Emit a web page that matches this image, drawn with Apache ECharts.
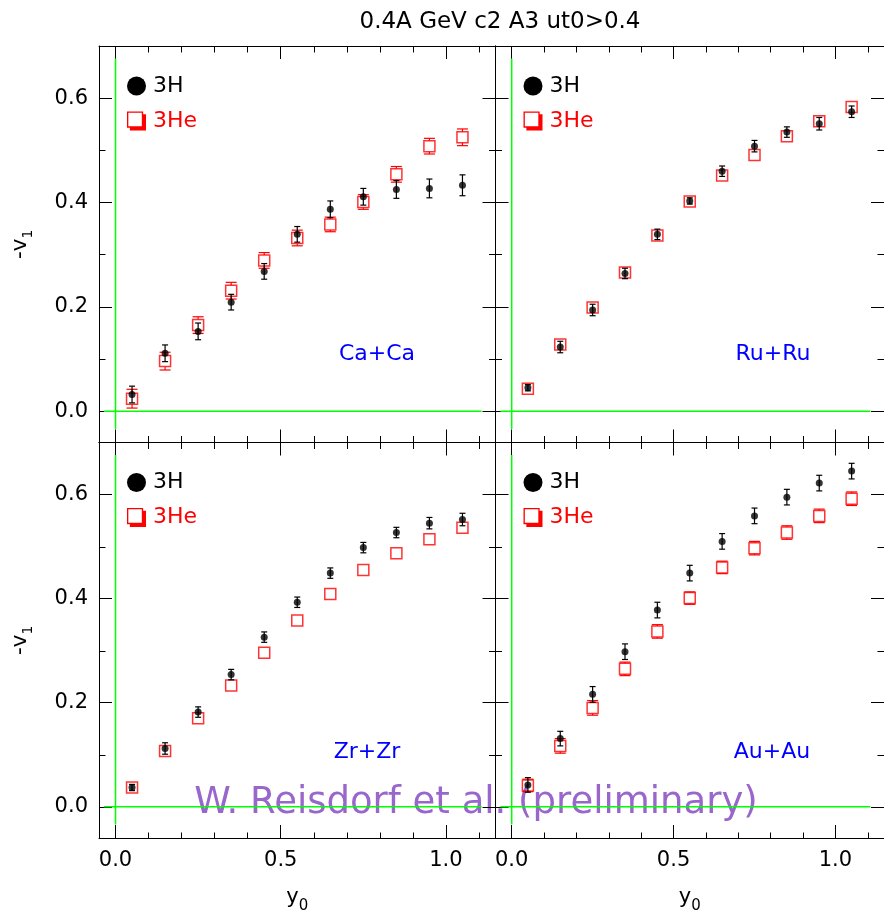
<!DOCTYPE html>
<html>
<head>
<meta charset="utf-8">
<script src="https://cdn.jsdelivr.net/npm/echarts@6/dist/echarts.min.js"></script>
<style>
html,body{margin:0;padding:0;background:#fff;}
#chart{width:884px;height:915px;}
</style>
</head>
<body>
<div id="chart"></div>
<script>
// ---------------- data ----------------
const titleText = '0.4A GeV c2 A3 ut0>0.4';
const watermarkText = 'W. Reisdorf et al. (preliminary)';
const systems = ['Ca+Ca', 'Ru+Ru', 'Zr+Zr', 'Au+Au'];
const seriesNames = ['3H', '3He'];
const y0Values = [0.05, 0.15, 0.25, 0.35, 0.45, 0.55, 0.65, 0.75, 0.85, 0.95, 1.05];

const caH     = [0.032, 0.111, 0.153, 0.209, 0.268, 0.339, 0.387, 0.411, 0.425, 0.427, 0.433];
const caHErr  = [0.016, 0.016, 0.016, 0.015, 0.015, 0.015, 0.016, 0.016, 0.017, 0.018, 0.020];
const caHe    = [0.024, 0.096, 0.165, 0.231, 0.289, 0.332, 0.358, 0.401, 0.454, 0.508, 0.525];
const caHeErr = [0.018, 0.017, 0.016, 0.016, 0.015, 0.015, 0.014, 0.014, 0.015, 0.015, 0.016];

const ruH     = [0.045, 0.123, 0.194, 0.264, 0.339, 0.403, 0.460, 0.508, 0.535, 0.551, 0.574];
const ruHErr  = [0.006, 0.011, 0.011, 0.010, 0.010, 0.006, 0.010, 0.011, 0.010, 0.012, 0.011];
const ruHe    = [0.043, 0.128, 0.199, 0.266, 0.337, 0.402, 0.452, 0.491, 0.527, 0.556, 0.583];
const ruHeErr = [0.005, 0.006, 0.006, 0.006, 0.005, 0.004, 0.005, 0.005, 0.005, 0.006, 0.006];

const zrH     = [0.037, 0.112, 0.182, 0.254, 0.326, 0.393, 0.449, 0.498, 0.527, 0.545, 0.552];
const zrHErr  = [0.006, 0.011, 0.010, 0.010, 0.010, 0.010, 0.010, 0.010, 0.010, 0.011, 0.012];
const zrHe    = [0.037, 0.107, 0.170, 0.233, 0.296, 0.358, 0.409, 0.455, 0.487, 0.514, 0.536];
const zrHeErr = [0.005, 0.005, 0.005, 0.005, 0.005, 0.005, 0.005, 0.005, 0.005, 0.005, 0.005];

const auH     = [0.042, 0.131, 0.216, 0.298, 0.378, 0.449, 0.510, 0.559, 0.595, 0.622, 0.645];
const auHErr  = [0.014, 0.014, 0.015, 0.015, 0.015, 0.015, 0.015, 0.015, 0.015, 0.015, 0.015];
const auHe    = [0.041, 0.117, 0.190, 0.265, 0.337, 0.401, 0.460, 0.497, 0.527, 0.559, 0.592];
const auHeErr = [0.012, 0.014, 0.014, 0.013, 0.013, 0.012, 0.012, 0.013, 0.013, 0.013, 0.013];

const xRange = [-0.05, 1.15];
const yRange = [-0.06, 0.70];
const xMajorTicks = [0, 0.5, 1.0];
const xMinorTicks = [0.1, 0.2, 0.3, 0.4, 0.6, 0.7, 0.8, 0.9, 1.1];
const yMajorTicks = [0, 0.2, 0.4, 0.6];
const yMinorTicks = [0.1, 0.3, 0.5];
const zeroLineXSpan = [-0.035, 1.108];
const zeroLineYSpan = [-0.034, 0.676];

// ---------------- layout / style ----------------
const FONT = 'DejaVu Sans';
const BLACK = '#000000', RED = '#ff0000', BLUE = '#0000ff', GREEN = '#00ff00', PURPLE = '#9966cc';
const G_LEFT = [99, 495.5, 99, 495.5];
const G_TOP = [46, 46, 442.5, 442.5];
const G_W = 396.5, G_H = 396.5;

const panels = [
  {h: caH, hErr: caHErr, he: caHe, heErr: caHeErr},
  {h: ruH, hErr: ruHErr, he: ruHe, heErr: ruHeErr},
  {h: zrH, hErr: zrHErr, he: zrHe, heErr: zrHeErr},
  {h: auH, hErr: auHErr, he: auHe, heErr: auHeErr}
];

const grids = [], xAxes = [], yAxes = [], series = [], legends = [];

function tickLine() { return {color: BLACK, width: 1}; }

for (let g = 0; g < 8; g++) {
  const p = g % 4;
  const major = g < 4;
  grids.push({left: G_LEFT[p], top: G_TOP[p], width: G_W, height: G_H, containLabel: false});
  const bottomRow = p >= 2, leftCol = (p % 2) === 0;
  ['bottom', 'top'].forEach(function (pos) {
    const showLab = major && pos === 'bottom' && bottomRow;
    xAxes.push({
      type: 'value', gridIndex: g, position: pos, min: xRange[0], max: xRange[1],
      axisLine: {show: major, onZero: false, lineStyle: tickLine()},
      axisTick: {show: true, inside: true, length: major ? 13 : 6.5,
                 customValues: major ? xMajorTicks : xMinorTicks, lineStyle: tickLine()},
      axisLabel: {show: showLab, customValues: xMajorTicks, margin: 12,
                  formatter: function (v) { return v.toFixed(1); },
                  color: BLACK, fontFamily: FONT, fontSize: 21},
      splitLine: {show: false},
      name: showLab ? '{n|y}{s|0}' : '',
      nameLocation: 'middle', nameGap: 49,
      nameTextStyle: {rich: {
        n: {fontFamily: FONT, fontSize: 21, color: BLACK, lineHeight: 21, verticalAlign: 'top'},
        s: {fontFamily: FONT, fontSize: 15, color: BLACK, lineHeight: 15, verticalAlign: 'top', padding: [12, 0, 0, 0]}
      }}
    });
  });
  ['left', 'right'].forEach(function (pos) {
    const showLab = major && pos === 'left' && leftCol;
    yAxes.push({
      type: 'value', gridIndex: g, position: pos, min: yRange[0], max: yRange[1],
      axisLine: {show: major, onZero: false, lineStyle: tickLine()},
      axisTick: {show: true, inside: true, length: major ? 13 : 6.5,
                 customValues: major ? yMajorTicks : yMinorTicks, lineStyle: tickLine()},
      axisLabel: {show: showLab, customValues: yMajorTicks, margin: 11,
                  formatter: function (v) { return v.toFixed(1); },
                  color: BLACK, fontFamily: FONT, fontSize: 21},
      splitLine: {show: false},
      name: showLab ? '{n|-v}{s|1}' : '',
      nameLocation: 'middle', nameGap: 68, nameRotate: 90,
      nameTextStyle: {rich: {
        n: {fontFamily: FONT, fontSize: 22, color: BLACK, lineHeight: 22, verticalAlign: 'top'},
        s: {fontFamily: FONT, fontSize: 14, color: BLACK, lineHeight: 14, verticalAlign: 'top', padding: [12, 0, 0, 0]}
      }}
    });
  });
}

function errRender(color, capHalf, gapHalf) {
  return function (params, api) {
    const x = api.value(0), v = api.value(1), e = api.value(2);
    const c = api.coord([x, v]);
    const hi = api.coord([x, v + e]);
    const lo = api.coord([x, v - e]);
    const st = {stroke: color, lineWidth: 1.2, fill: null};
    const kids = [];
    if (gapHalf > 0) {
      if (c[1] - hi[1] > gapHalf) kids.push({type: 'line', shape: {x1: c[0], y1: hi[1], x2: c[0], y2: c[1] - gapHalf}, style: st});
      if (lo[1] - c[1] > gapHalf) kids.push({type: 'line', shape: {x1: c[0], y1: c[1] + gapHalf, x2: c[0], y2: lo[1]}, style: st});
    } else {
      kids.push({type: 'line', shape: {x1: c[0], y1: hi[1], x2: c[0], y2: lo[1]}, style: st});
    }
    if (c[1] - hi[1] > gapHalf) {
      kids.push({type: 'line', shape: {x1: c[0] - capHalf, y1: hi[1], x2: c[0] + capHalf, y2: hi[1]}, style: st});
      kids.push({type: 'line', shape: {x1: c[0] - capHalf, y1: lo[1], x2: c[0] + capHalf, y2: lo[1]}, style: st});
    }
    return {type: 'group', children: kids};
  };
}

const SQUARE_ICON = 'path://M0,0L8.5,0L8.5,1.5L10,1.5L10,10L1.5,10L1.5,8.5L0,8.5Z M0.7,0.7L0.7,7.8L7.8,7.8L7.8,0.7Z';

panels.forEach(function (pd, p) {
  const hPts = y0Values.map(function (x, i) { return [x, pd.h[i]]; });
  const hePts = y0Values.map(function (x, i) { return [x, pd.he[i]]; });
  const hErrPts = y0Values.map(function (x, i) { return [x, pd.h[i], pd.hErr[i]]; });
  const heErrPts = y0Values.map(function (x, i) { return [x, pd.he[i], pd.heErr[i]]; });
  const ax = {xAxisIndex: 2 * p, yAxisIndex: 2 * p};
  series.push(Object.assign({type: 'line', name: 'zeroX' + p, data: [[zeroLineXSpan[0], 0], [zeroLineXSpan[1], 0]],
    showSymbol: false, symbol: 'none', silent: true, z: 1, lineStyle: {color: GREEN, width: 1.5}}, ax));
  series.push(Object.assign({type: 'line', name: 'zeroY' + p, data: [[0, zeroLineYSpan[0]], [0, zeroLineYSpan[1]]],
    showSymbol: false, symbol: 'none', silent: true, z: 1, lineStyle: {color: GREEN, width: 1.5}}, ax));
  series.push(Object.assign({type: 'custom', name: '3He', data: heErrPts, renderItem: errRender(RED, 5.5, 5.5), z: 3, silent: true,
    encode: {x: 0, y: 1}}, ax));
  series.push(Object.assign({type: 'scatter', name: '3He', data: hePts, symbol: 'rect', symbolSize: 11, z: 4,
    itemStyle: {color: 'rgba(0,0,0,0)', borderColor: RED, borderWidth: 1.5}}, ax));
  series.push(Object.assign({type: 'custom', name: '3H', data: hErrPts, renderItem: errRender(BLACK, 3, 0), z: 5, silent: true,
    encode: {x: 0, y: 1}}, ax));
  series.push(Object.assign({type: 'scatter', name: '3H', data: hPts, symbol: 'circle', symbolSize: 7, z: 6,
    itemStyle: {color: BLACK}}, ax));

  legends.push({
    orient: 'vertical', left: G_LEFT[p] + 28, top: G_TOP[p] + 29,
    itemWidth: 19, itemHeight: 19, itemGap: 13, selectedMode: false, padding: 0,
    textStyle: {fontFamily: FONT, fontSize: 22, padding: [0, 0, 0, 2]},
    data: [
      {name: seriesNames[0], icon: 'circle', itemStyle: {color: BLACK, borderWidth: 0}, textStyle: {color: BLACK}},
      {name: seriesNames[1], icon: SQUARE_ICON, itemStyle: {color: RED, borderWidth: 0}, textStyle: {color: RED}}
    ]
  });
});

const labelPos = [[377, 354], [773, 354], [367, 752], [772, 752]];
const graphics = [
  {type: 'text', x: 500, y: 22, z: 10, style: {text: titleText, font: '23px "DejaVu Sans"', fill: BLACK, align: 'center', verticalAlign: 'middle'}},
  {type: 'text', x: 476, y: 803, z: -10, style: {text: watermarkText, font: '37px "DejaVu Sans"', fill: PURPLE, align: 'center', verticalAlign: 'middle'}}
];
systems.forEach(function (s, p) {
  graphics.push({type: 'text', x: labelPos[p][0], y: labelPos[p][1], z: 10,
    style: {text: s, font: '22px "DejaVu Sans"', fill: BLUE, align: 'center', verticalAlign: 'middle'}});
});

const chart = echarts.init(document.getElementById('chart'), null, {renderer: 'canvas'});
chart.setOption({
  animation: false,
  backgroundColor: '#ffffff',
  grid: grids,
  xAxis: xAxes,
  yAxis: yAxes,
  legend: legends,
  graphic: graphics,
  series: series
});
</script>
</body>
</html>
